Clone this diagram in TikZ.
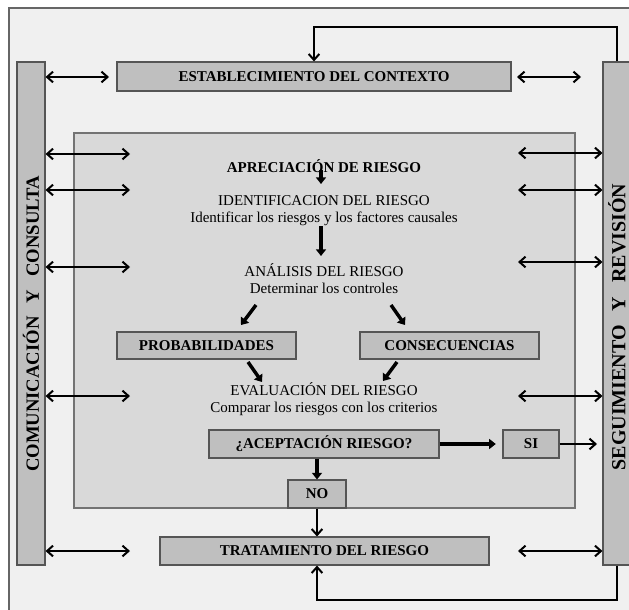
\documentclass[tikz,border=0pt]{standalone}
\usepackage{fontspec}
\setmainfont{Liberation Serif}
\usetikzlibrary{arrows.meta}
\definecolor{pagebg}{HTML}{F0F0F0}
\definecolor{panelbg}{HTML}{D9D9D9}
\definecolor{boxgray}{HTML}{BFBFBF}
\definecolor{edgegray}{HTML}{555555}
\begin{document}
\begin{tikzpicture}[x=0.75pt,y=-0.75pt,
  box/.style={draw=edgegray, fill=boxgray, line width=0.8pt, inner sep=0pt,
    font=\bfseries\fontsize{11.25}{13}\selectfont},
  sidebar/.style={draw=edgegray, fill=boxgray, line width=0.8pt, inner sep=0pt,
    minimum width=28*0.75pt, minimum height=503*0.75pt},
  sidelabel/.style={rotate=90, inner sep=0pt},
  panel/.style={draw=black!55, fill=panelbg, line width=0.8pt, inner sep=0pt},
  txt/.style={inner sep=0pt, align=center, font=\fontsize{11.25}{12.75}\selectfont},
  txtb/.style={inner sep=0pt, font=\bfseries\fontsize{11.25}{13}\selectfont},
  dbl/.style={line width=1.5pt, {Straight Barb[length=4.5pt,width=8pt,line width=1.5pt]}-{Straight Barb[length=4.5pt,width=8pt,line width=1.5pt]}},
  single/.style={line width=1.5pt, -{Straight Barb[length=4.5pt,width=8pt,line width=1.5pt]}},
  flow/.style={line width=2.6pt, -{Triangle[length=5pt,width=7.5pt]}},
]
\useasboundingbox (0,0) rectangle (629,610);
\fill[white] (0,0) rectangle (629,610);
\fill[pagebg] (9,8) rectangle (640,620);
\draw[black!60, line width=0.8pt] (9,620) -- (9,8) -- (640,8);

% side bars
\node[sidebar] (comm) at (31,313.5) {};
\node[sidebar] (seg) at (617,313.5) {};
\node[sidelabel, font=\bfseries\fontsize{14}{16}\selectfont] (commtxt) at (31,324)
  {COMUNICACIÓN\hspace{0.7em}Y\hspace{0.7em}CONSULTA};
\node[sidelabel, font=\bfseries\fontsize{15}{17}\selectfont] (segtxt) at (617,327)
  {SEGUIMIENTO\hspace{0.7em}Y\hspace{0.7em}REVISIÓN};

% context and treatment
\node[box, minimum width=394*0.75pt, minimum height=29*0.75pt] (est) at (314,76.5) {ESTABLECIMIENTO DEL CONTEXTO};
\node[box, minimum width=329*0.75pt, minimum height=28*0.75pt] (trat) at (324.5,551) {TRATAMIENTO DEL RIESGO};

% risk assessment panel
\node[panel, minimum width=501*0.75pt, minimum height=375*0.75pt] (apr) at (324.5,320.5) {};

\node[txtb] (aprt) at (324,166) {APRECIACIÓN DE RIESGO};
\node[txt] (ident) at (324,210.5) {IDENTIFICACION DEL RIESGO\\Identificar los riesgos y los factores causales};
\node[txt] (anal) at (324,279) {ANÁLISIS DEL RIESGO\\Determinar los controles};
\node[box, minimum width=179*0.75pt, minimum height=27*0.75pt] (prob) at (206.5,345.5) {PROBABILIDADES};
\node[box, minimum width=179*0.75pt, minimum height=27*0.75pt] (cons) at (449.5,345.5) {CONSECUENCIAS};
\node[txt] (eval) at (324,399) {EVALUACIÓN DEL RIESGO\\Comparar los riesgos con los criterios};
\node[box, minimum width=230*0.75pt, minimum height=28*0.75pt] (acep) at (324,444) {¿ACEPTACIÓN RIESGO?};
\node[box, minimum width=56*0.75pt, minimum height=28*0.75pt] (si) at (531,444) {SI};
\node[box, minimum width=58*0.75pt, minimum height=28*0.75pt] (no) at (317,494) {NO};

% arrow end points inside the panel
\coordinate (f1s) at (321,170);  \coordinate (f1e) at (321,184);
\coordinate (f2s) at (321,226);  \coordinate (f2e) at (321,256);
\coordinate (d1s) at (256,305);  \coordinate (d1e) at (241,325);
\coordinate (d2s) at (391,305);  \coordinate (d2e) at (405,325);
\coordinate (d3s) at (248,362);  \coordinate (d3e) at (262,382);
\coordinate (d4s) at (397,362);  \coordinate (d4e) at (383,381);
\coordinate (siout) at (597,444);

\draw[flow] (f1s) -- (f1e);
\draw[flow] (f2s) -- (f2e);
\draw[flow] (d1s) -- (d1e);
\draw[flow] (d2s) -- (d2e);
\draw[flow] (d3s) -- (d3e);
\draw[flow] (d4s) -- (d4e);
\draw[flow, shorten >=5pt] (acep.east) -- (si.west);
\draw[single] (si.east) -- (siout);
\draw[flow] (acep.south -| no.north) -- (no.north);
\draw[single] (no.south) -- (trat.north -| no.south);

% feedback loops from monitoring
\draw[single] (seg.north) -- (seg.north |- 0,27) -| (est.north);
\draw[single] (seg.south) -- (seg.south |- 0,600) -| (trat.south -| no.south);

% communication arrows (left)
\coordinate (l0) at (109,77);
\coordinate (l1) at (130,154);
\coordinate (l2) at (130,190);
\coordinate (l3) at (130,267);
\coordinate (l4) at (130,396);
\coordinate (l5) at (130,551);
\foreach \p in {l0,l1,l2,l3,l4,l5}
  \draw[dbl] (\p -| comm.east) -- (\p);

% monitoring arrows (right)
\coordinate (r0) at (517,77);
\coordinate (r1) at (518,153);
\coordinate (r2) at (518,190);
\coordinate (r3) at (518,262);
\coordinate (r4) at (518,396);
\coordinate (r5) at (518,551);
\draw[dbl] (r0) -- (581,77);
\foreach \p in {r1,r2,r3,r4,r5}
  \draw[dbl] (\p) -- (\p -| seg.west);
\end{tikzpicture}
\end{document}
